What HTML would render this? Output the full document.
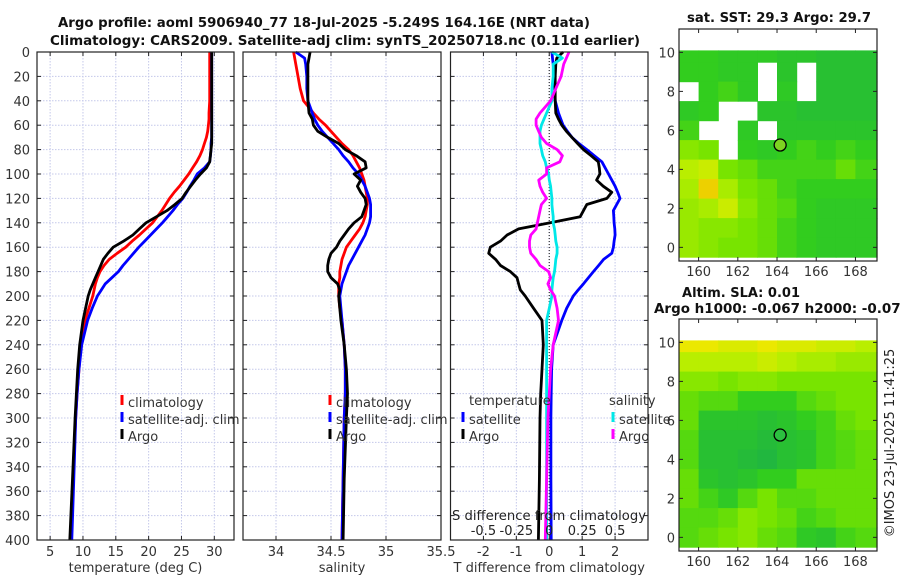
<!DOCTYPE html>
<html><head><meta charset="utf-8"><style>
body{margin:0;background:#fff}
svg{font-family:"DejaVu Sans","Liberation Sans",sans-serif;display:block}
</style></head><body>
<svg id="fig" width="900" height="580" viewBox="0 0 900 580">
<text x="324" y="27" text-anchor="middle" font-weight="bold" font-size="13" fill="#111" textLength="532" lengthAdjust="spacingAndGlyphs">Argo profile: aoml 5906940_77 18-Jul-2025 -5.249S 164.16E (NRT data)</text>
<text x="345" y="45" text-anchor="middle" font-weight="bold" font-size="13" fill="#111" textLength="590" lengthAdjust="spacingAndGlyphs">Climatology: CARS2009. Satellite-adj clim: synTS_20250718.nc (0.11d earlier)</text>
<text x="779" y="22" text-anchor="middle" font-weight="bold" font-size="13" fill="#111" textLength="184" lengthAdjust="spacingAndGlyphs">sat. SST: 29.3 Argo: 29.7</text>
<text x="682" y="297" font-weight="bold" font-size="13" fill="#111" textLength="118" lengthAdjust="spacingAndGlyphs">Altim. SLA: 0.01</text>
<text x="654" y="313" font-weight="bold" font-size="13" fill="#111" textLength="256" lengthAdjust="spacingAndGlyphs">Argo h1000: -0.067 h2000: -0.079</text>
<text transform="translate(894,443) rotate(-90)" text-anchor="middle" font-size="13" fill="#222">©IMOS 23-Jul-2025 11:41:25</text>
</svg>
<script>
// ---- data ----
const depths=[0,5,10,20,30,40,50,55,60,65,70,75,80,85,90,95,100,105,110,115,120,125,130,135,140,145,150,155,160,165,170,175,180,185,190,195,200,210,220,240,260,280,300,350,400];
const tArgo=[29.6,29.6,29.6,29.6,29.6,29.6,29.6,29.6,29.6,29.6,29.6,29.6,29.5,29.4,29.3,28.8,27.9,27.1,26.4,25.7,25.1,24.0,22.8,21.2,19.6,18.6,17.6,16.2,14.6,13.8,13.1,12.7,12.3,11.9,11.5,11.1,10.8,10.4,10.0,9.5,9.2,9.0,8.8,8.4,8.0];
const tClim=[29.3,29.3,29.3,29.3,29.3,29.3,29.2,29.2,29.1,29.0,28.8,28.5,28.2,27.8,27.3,26.7,26.1,25.4,24.7,23.9,23.2,22.6,22.0,21.3,20.6,19.6,18.6,17.5,16.5,15.2,14.0,13.2,12.6,12.2,11.9,11.7,11.5,10.9,10.3,9.7,9.4,9.1,8.9,8.5,8.1];
const tSat=[29.6,29.6,29.6,29.6,29.6,29.6,29.6,29.6,29.6,29.6,29.6,29.5,29.5,29.4,29.3,28.5,27.4,26.9,26.3,25.8,25.2,24.4,23.7,22.9,22.1,21.2,20.3,19.4,18.5,17.7,16.9,16.1,15.4,14.4,13.4,12.8,12.2,11.4,10.7,9.8,9.4,9.1,8.9,8.6,8.3];
const sArgo=[34.31,34.30,34.29,34.29,34.29,34.29,34.30,34.33,34.34,34.38,34.47,34.57,34.63,34.73,34.81,34.82,34.71,34.77,34.74,34.77,34.81,34.82,34.80,34.78,34.71,34.66,34.62,34.58,34.55,34.50,34.48,34.47,34.47,34.50,34.56,34.58,34.57,34.58,34.59,34.62,34.64,34.65,34.64,34.62,34.61];
const sClim=[34.16,34.17,34.18,34.20,34.22,34.25,34.34,34.39,34.45,34.50,34.55,34.60,34.66,34.70,34.73,34.76,34.78,34.80,34.81,34.82,34.83,34.83,34.82,34.81,34.79,34.76,34.72,34.68,34.64,34.62,34.60,34.59,34.58,34.58,34.57,34.57,34.57,34.58,34.60,34.62,34.63,34.63,34.62,34.61,34.60];
const sSat=[34.18,34.26,34.27,34.28,34.28,34.29,34.33,34.35,34.38,34.42,34.47,34.52,34.57,34.61,34.66,34.70,34.75,34.78,34.81,34.83,34.85,34.86,34.86,34.86,34.85,34.83,34.81,34.78,34.75,34.72,34.69,34.66,34.64,34.62,34.60,34.59,34.58,34.59,34.60,34.62,34.63,34.63,34.62,34.61,34.60];
const dtSat=[0.08,0.1,0.12,0.15,0.17,0.18,0.28,0.35,0.42,0.55,0.69,0.9,1.14,1.37,1.6,1.7,1.8,1.9,2.0,2.08,2.15,2.05,1.95,1.96,1.97,1.99,2.0,1.97,1.95,1.9,1.65,1.5,1.34,1.19,1.04,0.88,0.73,0.53,0.38,0.12,0.07,0.06,0.05,0.05,0.06];
const dtArgo=[0.42,0.23,0.2,0.18,0.18,0.18,0.2,0.28,0.38,0.52,0.69,0.86,1.04,1.27,1.49,1.52,1.54,1.44,1.64,1.9,1.75,1.14,1.04,0.94,0.03,-0.93,-1.28,-1.48,-1.79,-1.84,-1.63,-1.48,-1.18,-0.98,-0.93,-0.88,-0.73,-0.48,-0.22,-0.18,-0.22,-0.26,-0.28,-0.3,-0.33];
const dsSat=[0.02,0.1,0.03,0.03,0.02,0.02,-0.02,-0.04,-0.06,-0.07,-0.07,-0.07,-0.06,-0.05,-0.03,-0.02,-0.005,0.0,0.01,0.015,0.02,0.02,0.025,0.03,0.03,0.04,0.045,0.05,0.06,0.06,0.05,0.045,0.04,0.03,0.025,0.02,0.02,0.0,-0.02,-0.02,-0.02,-0.02,-0.02,-0.02,-0.02];
const dsArgo=[0.15,0.13,0.11,0.09,0.05,0.01,-0.07,-0.1,-0.1,-0.08,-0.06,-0.02,0.06,0.1,0.08,-0.02,-0.02,-0.08,-0.07,-0.05,-0.02,-0.06,-0.07,-0.08,-0.09,-0.1,-0.14,-0.15,-0.15,-0.14,-0.1,-0.07,-0.005,0.01,-0.01,0.01,0.04,0.06,0.07,0.03,0.01,0.0,-0.01,-0.02,-0.03];
const depthTicks=[0,20,40,60,80,100,120,140,160,180,200,220,240,260,280,300,320,340,360,380,400];
const tTicks=[5,10,15,20,25,30];
const sTicks=[34,34.5,35,35.5];
const dtTicks=[-2,-1,0,1,2];
const dsTicks=[-0.5,-0.25,0,0.25,0.5];
const lonTicks=[160,162,164,166,168];
const latTicks=[0,2,4,6,8,10];
const sstGrid=[
[.3,.3,.25,.25,.25,.2,.2,.15,.15,.15],
[.3,.3,.25,.25,null,.2,null,.15,.15,.15],
[null,.3,.35,.25,null,.25,null,.15,.15,.15],
[.25,.3,null,null,.2,.2,.15,.15,.15,.15],
[.35,null,null,.25,null,.2,.2,.2,.2,.2],
[.55,.5,null,.3,.25,.3,.35,.3,.35,.3],
[.7,.75,.5,.45,.35,.35,.35,.35,.45,.35],
[.65,.9,.65,.5,.45,.35,.3,.3,.3,.3],
[.6,.65,.75,.55,.45,.4,.3,.25,.25,.25],
[.6,.55,.55,.5,.45,.35,.3,.25,.25,.25],
[.6,.55,.5,.5,.45,.35,.3,.25,.25,.25]];
const slaGrid=[
[.85,.85,.8,.8,.85,.8,.8,.75,.75,.7],
[.7,.7,.7,.7,.75,.7,.65,.65,.6,.6],
[.55,.55,.5,.55,.55,.5,.5,.5,.5,.5],
[.45,.4,.4,.3,.3,.3,.4,.45,.5,.5],
[.45,.2,.2,.2,.15,.2,.3,.35,.45,.5],
[.4,.15,.15,.15,.1,.15,.2,.35,.4,.45],
[.4,.15,.15,.1,.05,.15,.2,.35,.4,.45],
[.45,.2,.15,.2,.3,.3,.45,.45,.45,.45],
[.45,.35,.25,.4,.5,.4,.4,.45,.45,.45],
[.4,.4,.45,.55,.5,.45,.35,.4,.45,.45],
[.4,.45,.5,.55,.45,.4,.25,.2,.35,.4]];
const argoLon=164.16, argoLat=5.249;

const NS='http://www.w3.org/2000/svg';
const svg=document.getElementById('fig');
const FS=13;
function mk(tag,attrs,parent){const e=document.createElementNS(NS,tag);for(const k in attrs)e.setAttribute(k,attrs[k]);(parent||svg).appendChild(e);return e;}
const Y0=52,Y1=540;
const yD=d=>Y0+(d-0)/(400)*(Y1-Y0);
function lin(d0,d1,r0,r1){return v=>r0+(v-d0)/(d1-d0)*(r1-r0);}

function panel(name,x0,x1,xs,xticks,label){
  const g=mk('g',{});
  
  
  mk('rect',{x:x0,y:Y0,width:x1-x0,height:Y1-Y0,fill:'#fff'},g);
  depthTicks.forEach(d=>{if(d>0&&d<400)mk('line',{x1:x0,x2:x1,y1:yD(d),y2:yD(d),stroke:'#c4c8ea','stroke-dasharray':'1.5,1.5','stroke-width':1},g);});
  xticks.forEach(t=>{const x=xs(t);if(x>x0+1&&x<x1-1)mk('line',{x1:x,x2:x,y1:Y0,y2:Y1,stroke:'#c4c8ea','stroke-dasharray':'1.5,1.5','stroke-width':1},g);});
  depthTicks.forEach(d=>{mk('line',{x1:x0,x2:x0+4,y1:yD(d),y2:yD(d),stroke:'#222'},g);mk('line',{x1:x1-4,x2:x1,y1:yD(d),y2:yD(d),stroke:'#222'},g);});
  xticks.forEach(t=>{const x=xs(t);mk('line',{x1:x,x2:x,y1:Y1,y2:Y1-4,stroke:'#222'},g);mk('line',{x1:x,x2:x,y1:Y0,y2:Y0+4,stroke:'#222'},g);
    const tx=mk('text',{x:x,y:Y1+16,'text-anchor':'middle','font-size':FS,fill:'#333'},g);tx.textContent=t;
    
    });
  const lb=mk('text',{x:(x0+x1)/2,y:572,'text-anchor':'middle','font-size':FS,fill:'#333'},g);lb.textContent=label;
  
  
  return g;
}
function frame(g,x0,x1){mk('rect',{x:x0,y:Y0,width:x1-x0,height:Y1-Y0,fill:'none',stroke:'#222','stroke-width':1.2},g);}
function line(g,xs,vals,color,name,w){
  const pts=vals.map((v,i)=>xs(v).toFixed(1)+','+yD(depths[i]).toFixed(1)).join(' ');
  const p=mk('polyline',{points:pts,fill:'none',stroke:color,'stroke-width':w||2.8,'stroke-linejoin':'round'},g);
  
  
}
function legend(g,x,y,items){
  items.forEach((it,i)=>{const yy=y+i*17;
    mk('line',{x1:x,x2:x,y1:yy-9,y2:yy+1,stroke:it[1],'stroke-width':3},g);
    const t=mk('text',{x:x+6,y:yy+3,'font-size':FS,fill:'#333'},g);t.textContent=it[0];
    
    });
}

depthTicks.forEach(d=>{const t=mk('text',{x:30,y:yD(d)+5,'text-anchor':'end','font-size':FS,fill:'#333'});t.textContent=d;
  
  });

const xT=lin(3,33,37,234);
const g1=panel('temperature-panel',37,234,xT,tTicks,'temperature (deg C)');
line(g1,xT,tClim,'#f00','climatology-temp-line');
line(g1,xT,tSat,'#00f','satellite-temp-line');
line(g1,xT,tArgo,'#000','argo-temp-line');
legend(g1,122,404,[['climatology','#f00'],['satellite-adj. clim','#00f'],['Argo','#000']]);
frame(g1,37,234);

const xS=lin(33.7,35.5,243,441);
const g2=panel('salinity-panel',243,441,xS,sTicks,'salinity');
line(g2,xS,sClim,'#f00','climatology-sal-line');
line(g2,xS,sSat,'#00f','satellite-sal-line');
line(g2,xS,sArgo,'#000','argo-sal-line');
legend(g2,330,404,[['climatology','#f00'],['satellite-adj. clim','#00f'],['Argo','#000']]);
frame(g2,243,441);

const xDT=lin(-3,3,450.5,648);
const xDS=lin(-0.75,0.75,450.5,648);
const g3=panel('difference-panel',450.5,648,xDT,dtTicks,'T difference from climatology');
mk('line',{x1:xDT(0),x2:xDT(0),y1:Y0,y2:Y1,stroke:'#333','stroke-dasharray':'1,2','stroke-width':1.2},g3);
line(g3,xDT,dtSat,'#00f','satellite-tdiff-line');
line(g3,xDT,dtArgo,'#000','argo-tdiff-line');
line(g3,xDS,dsSat,'#00e8e8','satellite-sdiff-line');
line(g3,xDS,dsArgo,'#f0f','argo-sdiff-line');
{const t=mk('text',{x:469,y:405,'font-size':FS,fill:'#333'},g3);t.textContent='temperature';
 
 }
{const t=mk('text',{x:609,y:405,'font-size':FS,fill:'#333'},g3);t.textContent='salinity';
 
 }
legend(g3,463,421,[['satellite','#00f'],['Argo','#000']]);
legend(g3,613,421,[['satellite','#00e8e8'],['Argo','#f0f']]);
{const t=mk('text',{x:549,y:520,'text-anchor':'middle','font-size':FS,fill:'#222',textLength:194,lengthAdjust:'spacingAndGlyphs'},g3);t.textContent='S difference from climatology';
 
 }
dsTicks.forEach(v=>{const t=mk('text',{x:xDS(v),y:535,'text-anchor':'middle','font-size':FS,fill:'#222'},g3);t.textContent=String(v);
  
  });
frame(g3,450.5,648);

function cmap(v){
  const stops=[[0,[30,178,70]],[.3,[50,205,30]],[.5,[120,228,0]],[.7,[185,238,0]],[.85,[235,232,0]],[1,[240,160,0]]];
  for(let i=1;i<stops.length;i++){if(v<=stops[i][0]){const a=stops[i-1],b=stops[i],f=(v-a[0])/(b[0]-a[0]);
    return 'rgb('+a[1].map((c,k)=>Math.round(c+(b[1][k]-c)*f)).join(',')+')';}}
  return 'rgb(240,160,0)';
}
function map(name,top,bottom,grid,markerFill){
  const x0=679,x1=877;
  const xL=lin(159,169.1,x0,x1);
  const yL=lin(11.2,-0.7,top,bottom);
  const g=mk('g',{});
  
  
  mk('rect',{x:x0,y:top,width:x1-x0,height:bottom-top,fill:'#fff'},g);
  grid.forEach((row,i)=>{const latC=10-i;const la0=Math.min(10.1,latC+0.5),la1=Math.max(-0.7,latC-0.5);
    row.forEach((v,j)=>{if(v===null)return;const lo0=159+j,lo1=j===9?169.1:160+j;
      const r=mk('rect',{x:xL(lo0).toFixed(1),y:yL(la0).toFixed(1),width:(xL(lo1)-xL(lo0)+0.6).toFixed(1),height:(yL(la1)-yL(la0)+0.6).toFixed(1),fill:cmap(v)},g);
      
      });});
  const c=mk('circle',{cx:xL(argoLon),cy:yL(argoLat),r:6,fill:markerFill,stroke:'#000','stroke-width':1.3},g);
  
  
  mk('rect',{x:x0,y:top,width:x1-x0,height:bottom-top,fill:'none',stroke:'#222','stroke-width':1.2},g);
  lonTicks.forEach(v=>{const x=xL(v);mk('line',{x1:x,x2:x,y1:bottom,y2:bottom-4,stroke:'#222'},g);mk('line',{x1:x,x2:x,y1:top,y2:top+4,stroke:'#222'},g);
    const t=mk('text',{x:x,y:bottom+15,'text-anchor':'middle','font-size':FS,fill:'#333'},g);t.textContent=v;
    
    });
  latTicks.forEach(v=>{const y=yL(v);mk('line',{x1:x0,x2:x0+4,y1:y,y2:y,stroke:'#222'},g);mk('line',{x1:x1-4,x2:x1,y1:y,y2:y,stroke:'#222'},g);
    const t=mk('text',{x:675,y:y+5,'text-anchor':'end','font-size':FS,fill:'#333'},g);t.textContent=v;
    
    });
}
map('sst-map',29,261,sstGrid,'#7ed321');
map('sla-map',319,551,slaGrid,'#2cc040');
</script>
</body></html>
